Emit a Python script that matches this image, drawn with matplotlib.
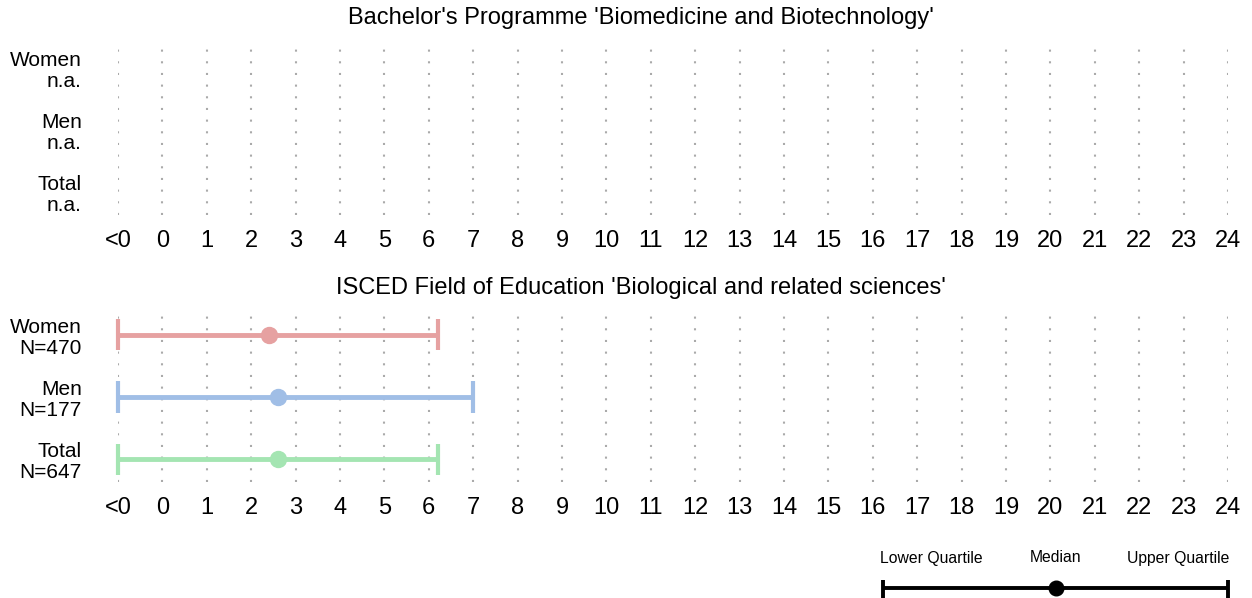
import matplotlib.pyplot as plt
import matplotlib

matplotlib.rcParams.update({'font.family': ['Liberation Sans', 'DejaVu Sans'], 'font.size': 17})

# Donnees
groupes = ["Women", "Men", "Total"]
n_bachelor = ["n.a.", "n.a.", "n.a."]
n_isced = [470, 177, 647]
q_bas = [-1, -1, -1]          # -1 = "<0"
mediane = [2.4, 2.6, 2.6]
q_haut = [6.2, 7.0, 6.2]
couleurs = ["#E6A1A1", "#A0BEE6", "#A4E5B2"]
ticks_x = list(range(-1, 25))
ticks_lbl = ["<0"] + [str(v) for v in range(0, 25)]

titre_haut = "Bachelor's Programme 'Biomedicine and Biotechnology'"
titre_bas = "ISCED Field of Education 'Biological and related sciences'"

W, H = 1252, 598
fig = plt.figure(figsize=(W / 100, H / 100), dpi=100)


def panneau(y_haut, y_bas, etiquettes):
    ax = fig.add_axes([118 / W, 1 - y_bas / H, (1228 - 118) / W, (y_bas - y_haut) / H])
    ax.set_xlim(-1, 24)
    ax.set_ylim(3.37, 0.63)
    for x in ticks_x:
        ax.axvline(x, color="#aaaaaa", lw=1.5, linestyle=(0, (1, 4.6)), zorder=0)
    ax.set_xticks(ticks_x)
    ax.set_xticklabels(ticks_lbl)
    ax.set_yticks([1, 2, 3])
    ax.set_yticklabels(etiquettes, linespacing=1.16, fontsize=15)
    ax.tick_params(length=0)
    ax.tick_params(axis="x", pad=11)
    ax.tick_params(axis="y", pad=26)
    for s in ax.spines.values():
        s.set_visible(False)
    return ax


ax1 = panneau(45, 215, [g + "\n" + n for g, n in zip(groupes, n_bachelor)])
ax2 = panneau(312, 482, [g + "\nN=" + str(n) for g, n in zip(groupes, n_isced)])

for i in range(len(groupes)):
    y = i + 1
    ax2.plot([q_bas[i], q_haut[i]], [y, y], color=couleurs[i], lw=3.5, clip_on=False, solid_capstyle="butt")
    for xc in (q_bas[i], q_haut[i]):
        ax2.plot([xc, xc], [y - 0.25, y + 0.25], color=couleurs[i], lw=3, clip_on=False, solid_capstyle="butt")
    ax2.plot(mediane[i], y, "o", color=couleurs[i], ms=11.5, clip_on=False)

fig.text(641 / W, 1 - 18 / H, titre_haut, ha="center", va="center")
fig.text(641 / W, 1 - 288 / H, titre_bas, ha="center", va="center")

# Legende
axl = fig.add_axes([883 / W, 0, (1228 - 883) / W, 53 / H])
axl.set_xlim(0, 1)
axl.set_ylim(0, 53)
axl.axis("off")
axl.plot([0, 1], [10, 10], color="black", lw=2.8, clip_on=False, solid_capstyle="butt")
for xc in (0, 1):
    axl.plot([xc, xc], [-2, 18], color="black", lw=2.8, clip_on=False, solid_capstyle="butt")
axl.plot(0.5, 10, "o", color="black", ms=10.5, clip_on=False)
axl.text(0.14, 40, "Lower Quartile", ha="center", va="center", fontsize=11.3)
axl.text(0.5, 40, "Median", ha="center", va="center", fontsize=11.3)
axl.text(0.855, 40, "Upper Quartile", ha="center", va="center", fontsize=11.3)

plt.savefig("out.png", dpi=100)
